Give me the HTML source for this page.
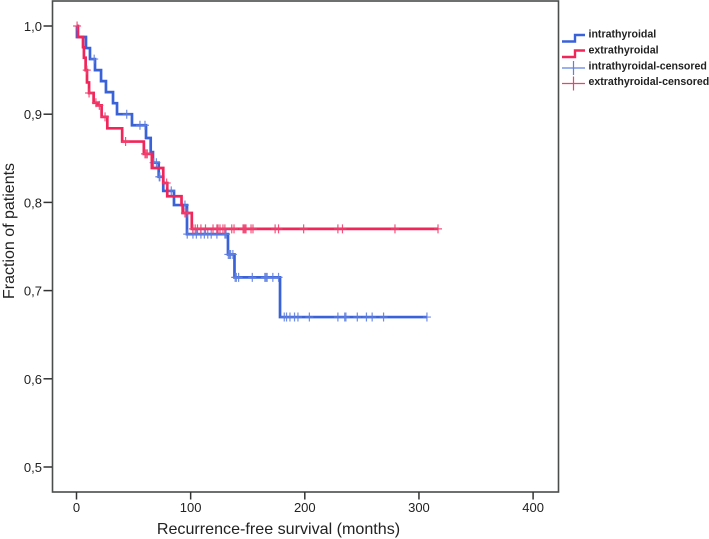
<!DOCTYPE html>
<html>
<head>
<meta charset="utf-8">
<style>
html,body{margin:0;padding:0;background:#fff;}
svg{display:block;font-family:"Liberation Sans",sans-serif;}
#series{filter:blur(0.35px);}
</style>
</head>
<body>
<svg id="chart" width="709" height="539" viewBox="0 0 709 539" xmlns="http://www.w3.org/2000/svg">
<rect x="52.5" y="1" width="506" height="491" fill="#fff" stroke="#4a4d4c" stroke-width="1.6"/>
<g id="axes"></g>
<g id="series"></g>
<text transform="translate(14,231) rotate(-90)" text-anchor="middle" font-size="16" fill="#222">Fraction of patients</text>
<text x="278.5" y="534" text-anchor="middle" font-size="16.1" fill="#222">Recurrence-free survival (months)</text>
<g>
<path d="M562 41.5H575V35H585" fill="none" stroke="#3a62d8" stroke-width="2.4"/>
<text x="588.5" y="37.5" font-size="10.6" font-weight="bold" fill="#222">intrathyroidal</text>
<path d="M562 57H575V50.5H585" fill="none" stroke="#f0265a" stroke-width="2.4"/>
<text x="588.5" y="53.5" font-size="10.6" font-weight="bold" fill="#222">extrathyroidal</text>
<path d="M562 68H585M573.5 61V75" fill="none" stroke="#5f80e0" stroke-width="1.2"/>
<text x="588.5" y="69.5" font-size="10.6" font-weight="bold" fill="#222">intrathyroidal-censored</text>
<path d="M562 83.5H585M573.5 76.5V90.5" fill="none" stroke="#f0406f" stroke-width="1.2"/>
<text x="588.5" y="85" font-size="10.6" font-weight="bold" fill="#222">extrathyroidal-censored</text>
</g>
</svg>
<script>
var xTicks = [0, 100, 200, 300, 400];
var yTicks = [1.0, 0.9, 0.8, 0.7, 0.6, 0.5];
var yTickLabels = ["1,0", "0,9", "0,8", "0,7", "0,6", "0,5"];

var intraTimes = [0.4, 8.3, 11.8, 16.2, 21.5, 25.8, 32, 35.5, 48.6, 60.9, 65, 67, 72, 76, 85.4, 96.8, 132.7, 138.4, 178.3];
var intraSurvival = [0.9875, 0.975, 0.9625, 0.95, 0.9375, 0.925, 0.9125, 0.9, 0.8875, 0.873, 0.857, 0.845, 0.829, 0.813, 0.797, 0.764, 0.741, 0.715, 0.67];
var intraEnd = 307;
var intraCensored = [15.5, 44, 55.6, 60, 67.5, 70, 72.5, 73, 83, 95, 97, 102, 105, 109, 112, 115, 118, 123, 130, 131, 133, 134, 135, 137, 139, 140, 142, 154, 165, 166, 167, 172, 177, 182, 184, 187, 191, 194, 204, 229, 235, 236, 246, 254, 259, 269, 307];

var extraTimes = [1.3, 5.7, 6.5, 8, 9.2, 11, 15, 18.5, 22, 27, 40, 59, 66, 76, 79.5, 92, 93, 101];
var extraSurvival = [0.9875, 0.976, 0.964, 0.95, 0.936, 0.924, 0.913, 0.91, 0.897, 0.884, 0.869, 0.855, 0.839, 0.822, 0.807, 0.797, 0.788, 0.77];
var extraEnd = 317;
var extraCensored = [0.5, 9, 11, 17, 20, 25, 43, 60, 61, 62, 79, 95, 97, 102, 104, 106, 109, 113, 119.6, 123, 124, 125.7, 128.3, 130, 136, 138, 145.9, 146.7, 147.6, 148.5, 152.9, 154.6, 174, 177, 199, 229, 233, 279, 316.7];

function xScale(t) { return 76.5 + 1.1415 * t; }
function yScale(s) { return 26 + 882 * (1 - s); }

var NS = "http://www.w3.org/2000/svg";
var axesGroup = document.getElementById("axes");
var seriesGroup = document.getElementById("series");

function make(tag, attrs, parent) {
  var el = document.createElementNS(NS, tag);
  for (var k in attrs) el.setAttribute(k, attrs[k]);
  parent.appendChild(el);
  return el;
}

xTicks.forEach(function (t) {
  var tick = make("line", { x1: xScale(t), x2: xScale(t), y1: 492, y2: 499.5, stroke: "#333", "stroke-width": 1.5 }, axesGroup);
  
  
  var label = make("text", { x: xScale(t), y: 512, "text-anchor": "middle", "font-size": 13, fill: "#222" }, axesGroup);
  label.textContent = String(t);
  
  
});

yTicks.forEach(function (s, i) {
  var tick = make("line", { x1: 43.5, x2: 52, y1: yScale(s), y2: yScale(s), stroke: "#333", "stroke-width": 1.5 }, axesGroup);
  
  
  var label = make("text", { x: 42, y: yScale(s) + 5, "text-anchor": "end", "font-size": 13, fill: "#222" }, axesGroup);
  label.textContent = yTickLabels[i];
  
  
});

function survivalAt(t, times, values) {
  var s = 1;
  for (var i = 0; i < times.length; i++) {
    if (times[i] <= t) s = values[i];
  }
  return s;
}

function drawCurve(times, values, end, color) {
  var d = "M" + xScale(0) + " " + yScale(1);
  for (var i = 0; i < times.length; i++) {
    d += "H" + xScale(times[i]) + "V" + yScale(values[i]);
  }
  d += "H" + xScale(end);
  return make("path", { d: d, fill: "none", stroke: color, "stroke-width": 2.7 }, seriesGroup);
}

function drawCensored(list, times, values, color, name) {
  list.forEach(function (t) {
    var x = xScale(t), y = yScale(survivalAt(t, times, values));
    var mark = make("path", { d: "M" + (x - 4) + " " + y + "H" + (x + 4) + "M" + x + " " + (y - 4.5) + "V" + (y + 4.5), fill: "none", stroke: color, "stroke-width": 1.2, opacity: 0.9 }, seriesGroup);
    
    
  });
}

var intraLine = drawCurve(intraTimes, intraSurvival, intraEnd, "#3a62d8");


drawCensored(intraCensored, intraTimes, intraSurvival, "#5f80e0", "intrathyroidal-censored-mark");

var extraLine = drawCurve(extraTimes, extraSurvival, extraEnd, "#f0265a");


drawCensored(extraCensored, extraTimes, extraSurvival, "#f0406f", "extrathyroidal-censored-mark");
</script>
</body>
</html>
